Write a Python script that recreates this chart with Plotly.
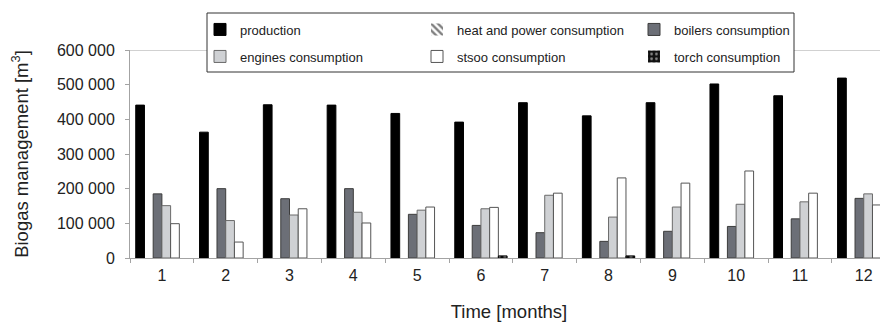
import plotly.graph_objects as go

months = [str(m) for m in range(1, 13)]
production = [441000, 363000, 442000, 441000, 417000, 392000, 448000, 410000, 448000, 502000, 468000, 519000]
heat_power = [0] * 12
boilers = [185000, 200000, 171000, 200000, 126000, 94000, 73000, 48000, 77000, 91000, 113000, 172000]
engines = [151000, 108000, 124000, 132000, 138000, 142000, 181000, 118000, 147000, 155000, 162000, 185000]
stsoo = [99000, 46000, 142000, 101000, 147000, 146000, 187000, 231000, 216000, 251000, 187000, 153000]
torch = [0, 0, 0, 0, 0, 6000, 0, 6000, 0, 0, 0, 0]

# The page body adds an 8 px margin, so the figure is drawn 8 px in from the
# window's top-left corner; window coordinates are converted accordingly.
OFF = 8
WIN_W, WIN_H = 888, 322
W, H = WIN_W - OFF, WIN_H - OFF
PLOT_L, PLOT_R, PLOT_T, PLOT_B = 130, 888, 50, 258  # window pixels
ML, MR, MT, MB = PLOT_L - OFF, WIN_W - PLOT_R, PLOT_T - OFF, WIN_H - PLOT_B
PW, PH = PLOT_R - PLOT_L, PLOT_B - PLOT_T


def px2x(px):
    return (px - PLOT_L) / PW


def px2y(py):
    return (PLOT_B - py) / PH


def outline(values, width=1):
    # no outline on empty (zero) bars so they stay invisible
    return [width if v else 0 for v in values]


FONT = "Liberation Sans, Arial, sans-serif"
TXT = "#222222"
AX = "#a3a3a3"

fig = go.Figure()
fig.add_bar(x=months, y=production, name="production", legend="legend",
            marker=dict(color="#000000", line=dict(color="#000000", width=1)))
fig.add_bar(x=months, y=heat_power, name="heat and power consumption", legend="legend",
            marker=dict(color="#ffffff", line=dict(color="#222222", width=outline(heat_power)),
                        pattern=dict(shape="\\", fgcolor="#000000", bgcolor="#ffffff",
                                     size=6, solidity=0.5)))
fig.add_bar(x=months, y=boilers, name="boilers consumption", legend="legend",
            marker=dict(color="#6c6f77", line=dict(color="#3c3c3c", width=1)))
fig.add_bar(x=months, y=engines, name="engines consumption", legend="legend2",
            marker=dict(color="#cfd1d4", line=dict(color="#6a6a6a", width=1)))
fig.add_bar(x=months, y=stsoo, name="stsoo consumption", legend="legend2",
            marker=dict(color="#ffffff", line=dict(color="#555555", width=1)))
fig.add_bar(x=months, y=torch, name="torch consumption", legend="legend2",
            marker=dict(color="#000000", line=dict(color="#000000", width=outline(torch)),
                        pattern=dict(shape=".", fgcolor="#ffffff", bgcolor="#111111",
                                     size=6, solidity=0.25)))

leg_common = dict(orientation="h", xanchor="left", yanchor="middle",
                  bgcolor="rgba(0,0,0,0)", borderwidth=0,
                  entrywidth=172, entrywidthmode="pixels",
                  font=dict(family=FONT, size=13, color=TXT))

fig.update_layout(
    width=W, height=H,
    margin=dict(l=ML, r=MR, t=MT, b=MB, pad=0, autoexpand=False),
    paper_bgcolor="#ffffff", plot_bgcolor="#ffffff",
    barmode="group", bargap=0.18, bargroupgap=0,
    separators=". ",
    font=dict(family=FONT, size=16, color=TXT),
    showlegend=True,
    legend=dict(x=px2x(200), y=px2y(29.5), **leg_common),
    legend2=dict(x=px2x(200), y=px2y(56.5), **leg_common),
    xaxis=dict(
        type="category", range=[-0.5, 11.38], automargin=False,
        showline=True, linecolor=AX, linewidth=1,
        ticks="outside", tickson="boundaries", ticklen=4, tickcolor=AX,
        ticklabelstandoff=3,
        showgrid=False, zeroline=False,
        tickfont=dict(family=FONT, size=16, color=TXT),
        title=dict(text="Time [months]", standoff=21,
                   font=dict(family=FONT, size=18.5, color=TXT)),
    ),
    yaxis=dict(
        range=[0, 600000], tickvals=[0, 100000, 200000, 300000, 400000, 500000, 600000],
        tickformat=",d", automargin=False, ticklabelstandoff=7,
        showline=True, linecolor=AX, linewidth=1,
        ticks="outside", ticklen=4, tickcolor=AX,
        showgrid=False, zeroline=False,
        tickfont=dict(family=FONT, size=16, color=TXT),
        title=dict(text="Biogas management [m<sup>3</sup>]", standoff=26,
                   font=dict(family=FONT, size=18.5, color=TXT)),
    ),
    shapes=[
        dict(type="line", xref="paper", yref="y", x0=0, x1=1, y0=600000, y1=600000,
             line=dict(color=AX, width=1), layer="above"),
        dict(type="rect", xref="paper", yref="paper",
             x0=px2x(207), x1=px2x(794), y0=px2y(72), y1=px2y(13),
             fillcolor="#ffffff", line=dict(color="#333333", width=1), layer="above"),
    ],
)

fig.write_html("out.html")
